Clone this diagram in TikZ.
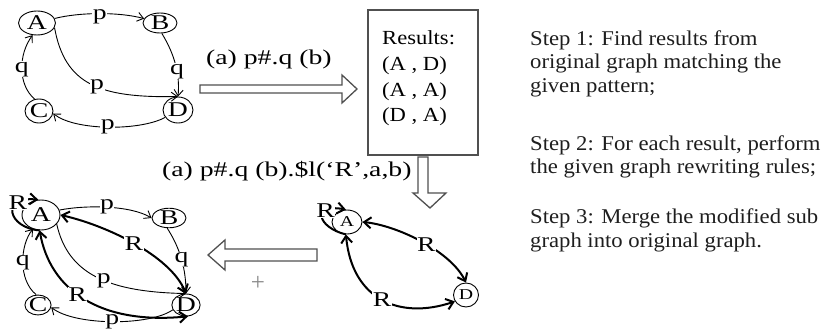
\documentclass[tikz,border=0pt]{standalone}
\usepackage{fontspec}
\setmainfont{Liberation Serif}
\newfontfamily\graphfont[FakeStretch=1.32]{Liberation Serif}
\newfontfamily\stepfont[FakeStretch=1.08]{Liberation Serif}
\newfontfamily\resfont[FakeStretch=1.13]{Liberation Serif}
\usetikzlibrary{arrows.meta,shapes.geometric}
\definecolor{boxgray}{HTML}{505050}
\definecolor{plusgray}{HTML}{8A8A8A}
\definecolor{textgray}{HTML}{1E1E1E}

\tikzset{
  vtx/.style={draw,ellipse,inner sep=0pt,line width=.9pt,
    font=\graphfont\fontsize{21}{21}\selectfont},
  smallvtx/.style={vtx,font=\graphfont\fontsize{15}{15}\selectfont},
  edge/.style={line width=.9pt,-{Straight Barb[length=6pt,width=9pt]}},
  redge/.style={line width=2pt,{Straight Barb[length=7pt,width=11pt]}-{Straight Barb[length=7pt,width=11pt]}},
  rloop/.style={line width=2pt,-{Straight Barb[length=7pt,width=11pt]}},
  elbl/.style={font=\graphfont\fontsize{21}{21}\selectfont,inner sep=.5pt,fill=white},
  fatarrow/.style={draw=boxgray,line width=1.3pt,fill=white,line join=miter},
  steptext/.style={anchor=base west,align=left,inner sep=0pt,text=textgray,
    font=\stepfont\fontsize{21}{23.3}\selectfont},
}

\begin{document}
\begin{tikzpicture}[x=1pt,y=-1pt]
  \useasboundingbox (0,0) rectangle (822,336);

  % original graph
  \node[vtx,minimum width=37,minimum height=24] (A1) at (37,23) {A};
  \node[vtx,minimum width=34,minimum height=20] (B1) at (160,23) {B};
  \node[vtx,minimum width=28,minimum height=24] (C1) at (39,111) {C};
  \node[vtx,minimum width=30,minimum height=26] (D1) at (178,110) {D};

  \draw[edge] (A1) .. controls (80,12) and (120,12) .. (B1) node[elbl,pos=.5,yshift=-3pt] (pAB1) {p};
  \draw[edge] (A1.-15) .. controls (65,85) and (100,98) .. (D1.north) node[elbl,pos=.55] (pAD1) {p};
  \draw[edge] (B1.-80) .. controls (175,55) and (180,75) .. (D1.north) node[elbl,pos=.6] (qBD1) {q};
  \draw[edge] (D1.-150) .. controls (140,131) and (75,131) .. (C1.-10) node[elbl,pos=.5] (pDC1) {p};
  \draw[edge] (C1.110) .. controls (18,85) and (18,55) .. (A1.-110) node[elbl,pos=.5] (qCA1) {q};

  % step 1: match
  \draw[fatarrow] (200,85) -- (342,85) -- (342,75) -- (357,89) -- (342,103) -- (342,93) -- (200,93) -- cycle;
  \node[anchor=base west,inner sep=0pt,font=\graphfont\fontsize{21}{21}\selectfont] (query) at (206,64.5) {(a) p\#.q (b)};

  \node[draw=boxgray,line width=1.3pt,minimum width=110,minimum height=145,inner sep=0pt] (res) at (423,82.5) {};
  \node[anchor=base west,align=left,inner sep=0pt,font=\resfont\fontsize{20}{25.6}\selectfont] (restxt) at (382,121.8)
    {Results:\\(A , D)\\(A , A)\\(D , A)};

  % step 2: rewrite
  \draw[fatarrow] (418,157) -- (428,157) -- (428,193) -- (446,193) -- (430,208) -- (413,193) -- (418,193) -- cycle;
  \node[anchor=base west,inner sep=0pt,font=\graphfont\fontsize{21}{21}\selectfont] (rule) at (162,176.5)
    {(a) p\#.q (b).\$l(‘R’,a,b)};

  \node[smallvtx,minimum width=30,minimum height=24] (A3) at (347,222) {A};
  \node[smallvtx,minimum width=25,minimum height=24] (D3) at (466,295) {D};

  \draw[rloop] (A3.-95) .. controls (318,228) and (310,203) .. (A3.95) node[elbl,pos=.72] (rAA3) {R};
  \draw[redge] (A3.east) .. controls (395,225) and (450,250) .. (D3.north) node[elbl,pos=.55] (rAD3) {R};
  \draw[redge] (A3.-95) .. controls (352,300) and (400,320) .. (D3.-150) node[elbl,pos=.5] (rDA3) {R};

  % step 3: merge
  \draw[fatarrow] (317,249) -- (225,249) -- (225,240) -- (208,255) -- (225,270) -- (225,261) -- (317,261) -- cycle;
  \node[text=plusgray,inner sep=0pt,font=\fontsize{25}{25}\selectfont] (plus) at (258,283) {+};

  \node[vtx,minimum width=38,minimum height=30] (A2) at (41,215) {A};
  \node[vtx,minimum width=34,minimum height=19] (B2) at (169,218) {B};
  \node[vtx,minimum width=24,minimum height=18] (C2) at (38,305) {C};
  \node[vtx,minimum width=26,minimum height=22] (D2) at (186,305) {D};

  \draw[edge] (A2.15) .. controls (85,205) and (130,205) .. (B2.west) node[elbl,pos=.5] (pAB2) {p};
  \draw[edge] (B2.-100) .. controls (178,245) and (186,265) .. (D2.north) node[elbl,pos=.55] (qBD2) {q};
  \draw[edge] (A2.-30) .. controls (68,275) and (110,292) .. (D2.north) node[elbl,pos=.55] (pAD2) {p};
  \draw[edge] (D2.-160) .. controls (150,326) and (75,326) .. (C2.-10) node[elbl,pos=.5] (pDC2) {p};
  \draw[edge] (C2.100) .. controls (18,280) and (20,245) .. (A2.-120) node[elbl,pos=.5] (qCA2) {q};

  \draw[rloop] (A2.-95) .. controls (8,228) and (0,196) .. (A2.100) node[elbl,pos=.75] (rAA2) {R};
  \draw[redge] (A2.east) .. controls (105,225) and (170,255) .. (D2.north) node[elbl,pos=.5] (rAD2) {R};
  \draw[redge] (A2.-95) .. controls (50,290) and (100,325) .. (D2.-80) node[elbl,pos=.45] (rDA2) {R};

  % steps
  \node[steptext] (step1) at (530,92.1) {Step 1: Find results from\\original graph matching the\\given pattern;};
  \node[steptext] (step2) at (530,173.8) {Step 2: For each result, perform\\the given graph rewriting rules;};
  \node[steptext] (step3) at (530,247.3) {Step 3: Merge the modified sub\\graph into original graph.};
\end{tikzpicture}
\end{document}
